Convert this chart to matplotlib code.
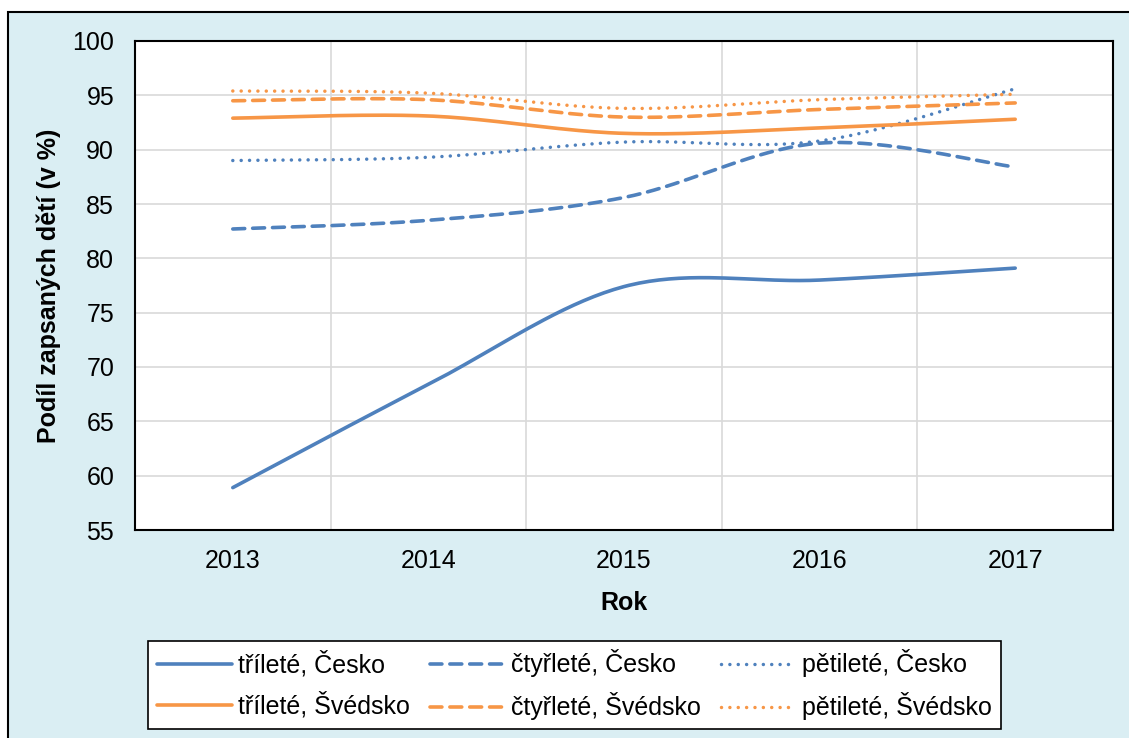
import matplotlib
matplotlib.use('Agg')
import matplotlib.pyplot as plt
import numpy as np
from matplotlib.patches import Rectangle

plt.rcParams['font.family'] = ['Liberation Sans', 'DejaVu Sans']

# data
years = [2013, 2014, 2015, 2016, 2017]
cz_3 = [58.9, 68.4, 77.4, 78.0, 79.1]
cz_4 = [82.7, 83.5, 85.6, 90.6, 88.4]
cz_5 = [89.0, 89.3, 90.7, 90.8, 95.6]
se_3 = [92.9, 93.1, 91.5, 92.0, 92.8]
se_4 = [94.5, 94.6, 93.0, 93.7, 94.3]
se_5 = [95.4, 95.2, 93.8, 94.6, 95.1]

labels = ['tříleté, Česko', 'čtyřleté, Česko', 'pětileté, Česko',
          'tříleté, Švédsko', 'čtyřleté, Švédsko', 'pětileté, Švédsko']

BLUE = '#4F81BD'
ORANGE = '#F79646'
BG = '#DAEEF3'
FS = 18


def smooth(x, y, n=40):
    # Excel-style smoothed line: cubic bezier through the points
    x = np.asarray(x, float)
    y = np.asarray(y, float)
    px = np.concatenate([[x[0]], x, [x[-1]]])
    py = np.concatenate([[y[0]], y, [y[-1]]])
    t = np.linspace(0, 1, n)
    xs, ys = [], []
    for i in range(len(x) - 1):
        p0 = np.array([px[i + 1], py[i + 1]])
        p3 = np.array([px[i + 2], py[i + 2]])
        p1 = p0 + (np.array([px[i + 2], py[i + 2]]) - np.array([px[i], py[i]])) / 6
        p2 = p3 - (np.array([px[i + 3], py[i + 3]]) - np.array([px[i + 1], py[i + 1]])) / 6
        b = ((1 - t) ** 3)[:, None] * p0 + (3 * (1 - t) ** 2 * t)[:, None] * p1 \
            + (3 * (1 - t) * t ** 2)[:, None] * p2 + (t ** 3)[:, None] * p3
        xs.append(b[:, 0])
        ys.append(b[:, 1])
    return np.concatenate(xs), np.concatenate(ys)


fig = plt.figure(figsize=(11.29, 7.38), dpi=100)
fig.patch.set_facecolor('white')
bg = Rectangle((8 / 1129, -0.1), 1.2, 1.1 - 12 / 738, transform=fig.transFigure,
               facecolor=BG, edgecolor='black', linewidth=1.5, zorder=-10)
fig.patches.append(bg)

ax = fig.add_axes([135 / 1129, 1 - 530 / 738, (1113 - 135) / 1129, (530 - 41) / 738])
ax.set_facecolor('white')

lw = 2.6
series = [(cz_3, BLUE, '-'), (cz_4, BLUE, '--'), (cz_5, BLUE, ':'),
          (se_3, ORANGE, '-'), (se_4, ORANGE, '--'), (se_5, ORANGE, ':')]
lines = []
for (vals, col, ls), lab in zip(series, labels):
    sx, sy = smooth(years, vals)
    line, = ax.plot(sx, sy, color=col, lw=lw, label=lab, solid_capstyle='round')
    if ls == '--':
        line.set_dashes([3.3, 2.2])
        line.set_dash_capstyle('round')
    elif ls == ':':
        line.set_linewidth(2.5)
        line.set_dashes([0.01, 2.4])
        line.set_dash_capstyle('round')
    lines.append(line)

ax.set_xlim(2012.5, 2017.5)
ax.set_ylim(55, 100)
ax.set_xticks(years)
ax.set_xticklabels([str(y) for y in years])
ax.set_yticks(np.arange(55, 101, 5))
ax.set_xticks(np.arange(2013.5, 2017, 1), minor=True)
ax.grid(True, axis='y', color='#D9D9D9', lw=1.2)
ax.grid(True, axis='x', which='minor', color='#D9D9D9', lw=1.2)
ax.set_axisbelow(True)
ax.tick_params(axis='both', which='both', length=0, labelsize=FS)
ax.tick_params(axis='y', pad=15)
ax.tick_params(axis='x', pad=14)
for s in ax.spines.values():
    s.set_color('black')
    s.set_linewidth(1.5)

ax.set_xlabel('Rok', fontsize=FS, fontweight='bold', labelpad=13)
ax.set_ylabel('Podíl zapsaných dětí (v %)', fontsize=FS, fontweight='bold', labelpad=8)

# legend fills column by column, so interleave to get the rows right
order = [0, 3, 1, 4, 2, 5]
leg = fig.legend([lines[i] for i in order], [labels[i] for i in order],
                 loc='lower left', bbox_to_anchor=(148 / 1129, 1 - 729 / 738), ncol=3,
                 fontsize=FS, frameon=True, fancybox=False, edgecolor='black',
                 handlelength=3.0, handletextpad=0.25, columnspacing=0.8,
                 borderpad=0.35, labelspacing=0.6, borderaxespad=0)
leg.get_frame().set_linewidth(1.2)
leg.get_frame().set_facecolor('white')
leg.get_frame().set_alpha(1)

fig.savefig('out.png', dpi=100, facecolor=fig.get_facecolor())
